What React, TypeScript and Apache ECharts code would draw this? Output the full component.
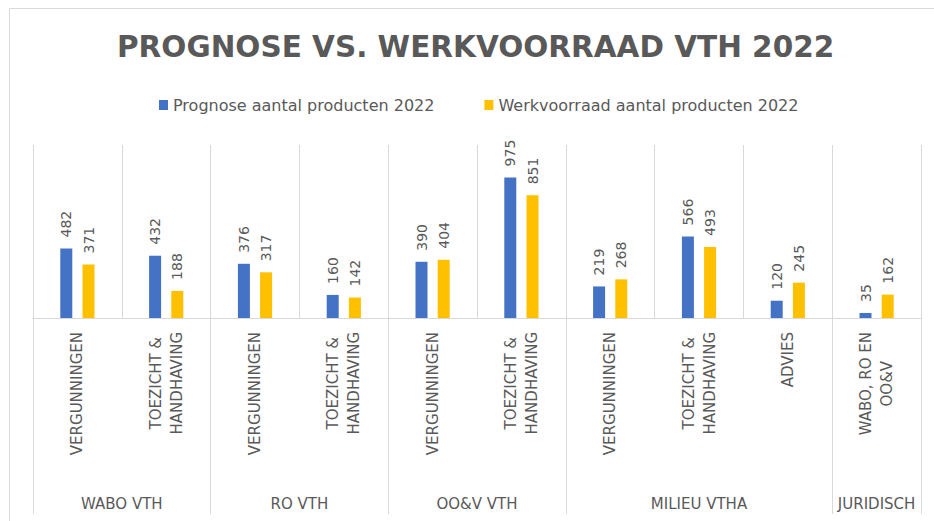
import React, { useEffect, useRef } from "react";
import * as echarts from "echarts";

const subCategories = [
  "VERGUNNINGEN",
  "TOEZICHT &\nHANDHAVING",
  "VERGUNNINGEN",
  "TOEZICHT &\nHANDHAVING",
  "VERGUNNINGEN",
  "TOEZICHT &\nHANDHAVING",
  "VERGUNNINGEN",
  "TOEZICHT &\nHANDHAVING",
  "ADVIES",
  "WABO, RO EN\nOO&V",
];
const groupNames = ["WABO VTH", "RO VTH", "OO&V VTH", "MILIEU VTHA", "JURIDISCH"];
const groupSizes = [2, 2, 2, 3, 1];
const prognose = [482, 432, 376, 160, 390, 975, 219, 566, 120, 35];
const werkvoorraad = [371, 188, 317, 142, 404, 851, 268, 493, 245, 162];
const seriesNames = ["Prognose aantal producten 2022", "Werkvoorraad aantal producten 2022"];

const GREY = "#595959";
const LINE = "#d9d9d9";
const FONT = "DejaVu Sans";

export default function App() {
  const ref = useRef<HTMLDivElement>(null);
  useEffect(() => {
    if (!ref.current) return;
    const chart = echarts.init(ref.current, undefined, { renderer: "svg" });

    // half-step axis for group labels and group separators
    const slots = subCategories.length * 2 + 1;
    const groupAxisData: string[] = new Array(slots).fill("");
    const boundarySet = new Set<number>([0]);
    let start = 0;
    groupNames.forEach((g, i) => {
      groupAxisData[start * 2 + groupSizes[i]] = g;
      start += groupSizes[i];
      boundarySet.add(start * 2);
    });

    const labelCfg = {
      show: true,
      position: "top",
      rotate: 90,
      align: "left",
      verticalAlign: "middle",
      distance: 11,
      color: GREY,
      fontSize: 14,
      fontFamily: FONT,
    };

    chart.setOption({
      animation: false,
      backgroundColor: "#ffffff",
      title: {
        text: "PROGNOSE VS. WERKVOORRAAD VTH 2022",
        left: 117,
        top: 32,
        padding: 0,
        textStyle: { color: GREY, fontSize: 29.5, fontWeight: "bold", fontFamily: FONT },
      },
      legend: {
        data: seriesNames,
        top: 97,
        left: 159,
        padding: 0,
        itemWidth: 9,
        itemHeight: 10,
        itemGap: 50,
        icon: "rect",
        textStyle: { color: GREY, fontSize: 16, fontFamily: FONT },
      },
      grid: { left: 33, right: 13, top: 145, bottom: 203, containLabel: false },
      xAxis: [
        {
          type: "category",
          data: subCategories,
          position: "bottom",
          axisLine: { show: true, lineStyle: { color: LINE, width: 1 } },
          axisTick: { show: false },
          splitLine: { show: true, interval: 0, lineStyle: { color: LINE, width: 1 } },
          axisLabel: {
            interval: 0,
            rotate: 90,
            margin: 14,
            color: GREY,
            fontSize: 15,
            fontFamily: FONT,
            formatter: (v: string) =>
              v
                .split("\n")
                .map((s) => `{c|${s}}`)
                .join("\n"),
            rich: {
              c: { align: "center", color: GREY, fontSize: 15, fontFamily: FONT, lineHeight: 21 },
            },
          },
        },
        {
          type: "category",
          data: groupAxisData,
          position: "bottom",
          offset: 0,
          boundaryGap: false,
          axisLine: { show: false },
          axisTick: {
            show: true,
            length: 196,
            interval: (index: number) => boundarySet.has(index),
            lineStyle: { color: LINE, width: 1 },
          },
          splitLine: { show: false },
          axisLabel: {
            interval: 0,
            margin: 178,
            color: GREY,
            fontSize: 15,
            fontFamily: FONT,
          },
        },
      ],
      yAxis: { type: "value", min: 0, max: 1200, show: false, splitLine: { show: false } },
      series: [
        {
          name: seriesNames[0],
          type: "bar",
          data: prognose,
          barWidth: 12,
          barGap: "85%",
          itemStyle: { color: "#4472C4" },
          label: labelCfg,
        },
        {
          name: seriesNames[1],
          type: "bar",
          data: werkvoorraad,
          barWidth: 12,
          itemStyle: { color: "#FFC000" },
          label: labelCfg,
        },
      ],
      graphic: [
        {
          type: "rect",
          silent: true,
          shape: { x: 9.5, y: 8.5, width: 1000, height: 600 },
          style: { fill: "none", stroke: LINE, lineWidth: 1 },
        },
      ],
    });
    return () => chart.dispose();
  }, []);
  return (
    <div
      ref={ref}
      style={{ position: "absolute", left: 0, top: 0, width: 934, height: 521 }}
    />
  );
}
